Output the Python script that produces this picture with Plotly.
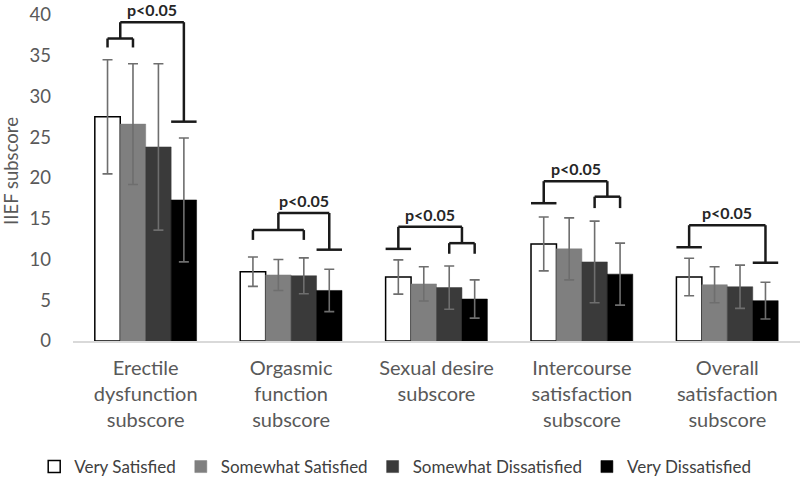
import plotly.graph_objects as go

categories = ["Erectile<br>dysfunction<br>subscore", "Orgasmic<br>function<br>subscore",
              "Sexual desire<br>subscore", "Intercourse<br>satisfaction<br>subscore",
              "Overall<br>satisfaction<br>subscore"]
series_names = ["Very Satisfied", "Somewhat Satisfied", "Somewhat Dissatisfied", "Very Dissatisfied"]
means = [
    [27.5, 8.5, 7.85, 11.9, 7.85],
    [26.6, 8.1, 7.0, 11.3, 6.9],
    [23.8, 8.0, 6.55, 9.7, 6.65],
    [17.3, 6.2, 5.15, 8.2, 4.95],
]
sds = [
    [7.0, 1.8, 2.1, 3.3, 2.3],
    [7.4, 1.9, 2.1, 3.8, 2.2],
    [10.2, 2.2, 2.65, 5.0, 2.65],
    [7.6, 2.6, 2.35, 3.8, 2.25],
]
tick_vals_y = [0, 5, 10, 15, 20, 25, 30, 35, 40]
sig_label = "p<0.05"

colors = ["#ffffff", "#7f7f7f", "#3a3a3a", "#000000"]
outline = ["#000000", "#7f7f7f", "#3a3a3a", "#000000"]

fig = go.Figure()
for k in range(4):
    fig.add_trace(go.Bar(
        x=list(range(5)), y=means[k], name=series_names[k],
        marker=dict(color=colors[k], line=dict(color=outline[k], width=1.5 if k == 0 else 0.5)),
        error_y=dict(type="data", array=sds[k], color="#6e6e6e", thickness=1.6, width=5),
    ))

# bar geometry (bargap 0.3, 4 bars per group)
bw = 0.7 / 4
off = [(-1.5 + j) * bw for j in range(4)]

line = dict(color="#1a1a1a", width=2.5)


def seg(x0, y0, x1, y1):
    fig.add_shape(type="line", x0=x0, y0=y0, x1=x1, y1=y1, xref="x", yref="y", line=line)


def bracket(xa, xb, y, leg):
    seg(xa, leg, xa, y)
    seg(xa, y, xb, y)
    seg(xb, y, xb, leg)


def tbar(xc, y):
    seg(xc - bw / 2, y, xc + bw / 2, y)


# group 1
g = 0
bracket(g + off[0], g + off[1], 37.1, 36.0)
xm = g + (off[0] + off[1]) / 2
seg(xm, 37.1, xm, 39.1)
seg(xm, 39.1, g + off[3], 39.1)
seg(g + off[3], 39.1, g + off[3], 26.9)
tbar(g + off[3], 26.9)
top1 = ((xm + g + off[3]) / 2, 39.1)

# group 2
g = 1
bracket(g + off[0], g + off[2], 13.6, 12.4)
xm = g + (off[0] + off[2]) / 2
seg(xm, 13.6, xm, 15.7)
seg(xm, 15.7, g + off[3], 15.7)
seg(g + off[3], 15.7, g + off[3], 11.2)
tbar(g + off[3], 11.2)
top2 = ((xm + g + off[3]) / 2, 15.7)

# group 3
g = 2
tbar(g + off[0], 11.3)
seg(g + off[0], 11.3, g + off[0], 14.0)
xm = g + (off[2] + off[3]) / 2
seg(g + off[0], 14.0, xm, 14.0)
seg(xm, 14.0, xm, 12.0)
bracket(g + off[2], g + off[3], 12.0, 10.7)
top3 = ((g + off[0] + xm) / 2, 14.0)

# group 4
g = 3
tbar(g + off[0], 16.9)
seg(g + off[0], 16.9, g + off[0], 19.6)
xm = g + (off[2] + off[3]) / 2
seg(g + off[0], 19.6, xm, 19.6)
seg(xm, 19.6, xm, 17.7)
bracket(g + off[2], g + off[3], 17.7, 16.3)
top4 = ((g + off[0] + xm) / 2, 19.6)

# group 5
g = 4
tbar(g + off[0], 11.5)
seg(g + off[0], 11.5, g + off[0], 14.2)
seg(g + off[0], 14.2, g + off[3], 14.2)
seg(g + off[3], 14.2, g + off[3], 9.6)
tbar(g + off[3], 9.6)
top5 = ((g + off[0] + g + off[3]) / 2, 14.2)

for (xt, yt) in [top1, top2, top3, top4, top5]:
    fig.add_annotation(x=xt, y=yt, xref="x", yref="y", text="<b>" + sig_label + "</b>",
                       showarrow=False, yanchor="bottom", yshift=1,
                       font=dict(size=16, color="#262626", family="Lato"))

fig.update_layout(
    width=800, height=480,
    margin=dict(l=73, r=0, t=1, b=139, autoexpand=False),
    plot_bgcolor="white", paper_bgcolor="white",
    barmode="group", bargap=0.3, bargroupgap=0,
    font=dict(family="Lato", color="#595959", size=17),
    showlegend=True,
    legend=dict(orientation="h", xref="container", x=0.494, xanchor="center",
                yref="container", y=0.027, yanchor="middle",
                font=dict(size=17, color="#404040"), itemwidth=30, traceorder="normal"),
)
fig.update_xaxes(
    range=[-0.5, 4.5], tickmode="array", tickvals=list(range(5)), ticktext=categories,
    showgrid=False, zeroline=False, showline=True, linecolor="#d9d9d9", linewidth=1.5,
    ticks="", tickfont=dict(size=20, color="#595959"), ticklabelstandoff=8,
    automargin=False,
)
fig.update_yaxes(
    range=[0, 41.7], tickmode="array", tickvals=tick_vals_y,
    showgrid=False, zeroline=False, showline=False, ticks="",
    tickfont=dict(size=18.5, color="#595959"), ticklabelstandoff=21,
    ticklabeloverflow="allow",
    title=dict(text="IIEF subscore", font=dict(size=18.5, color="#595959"), standoff=10),
    automargin=False,
)

fig.write_html("out.html", config={"displayModeBar": False},
               post_script="document.body.style.margin='0px';")
